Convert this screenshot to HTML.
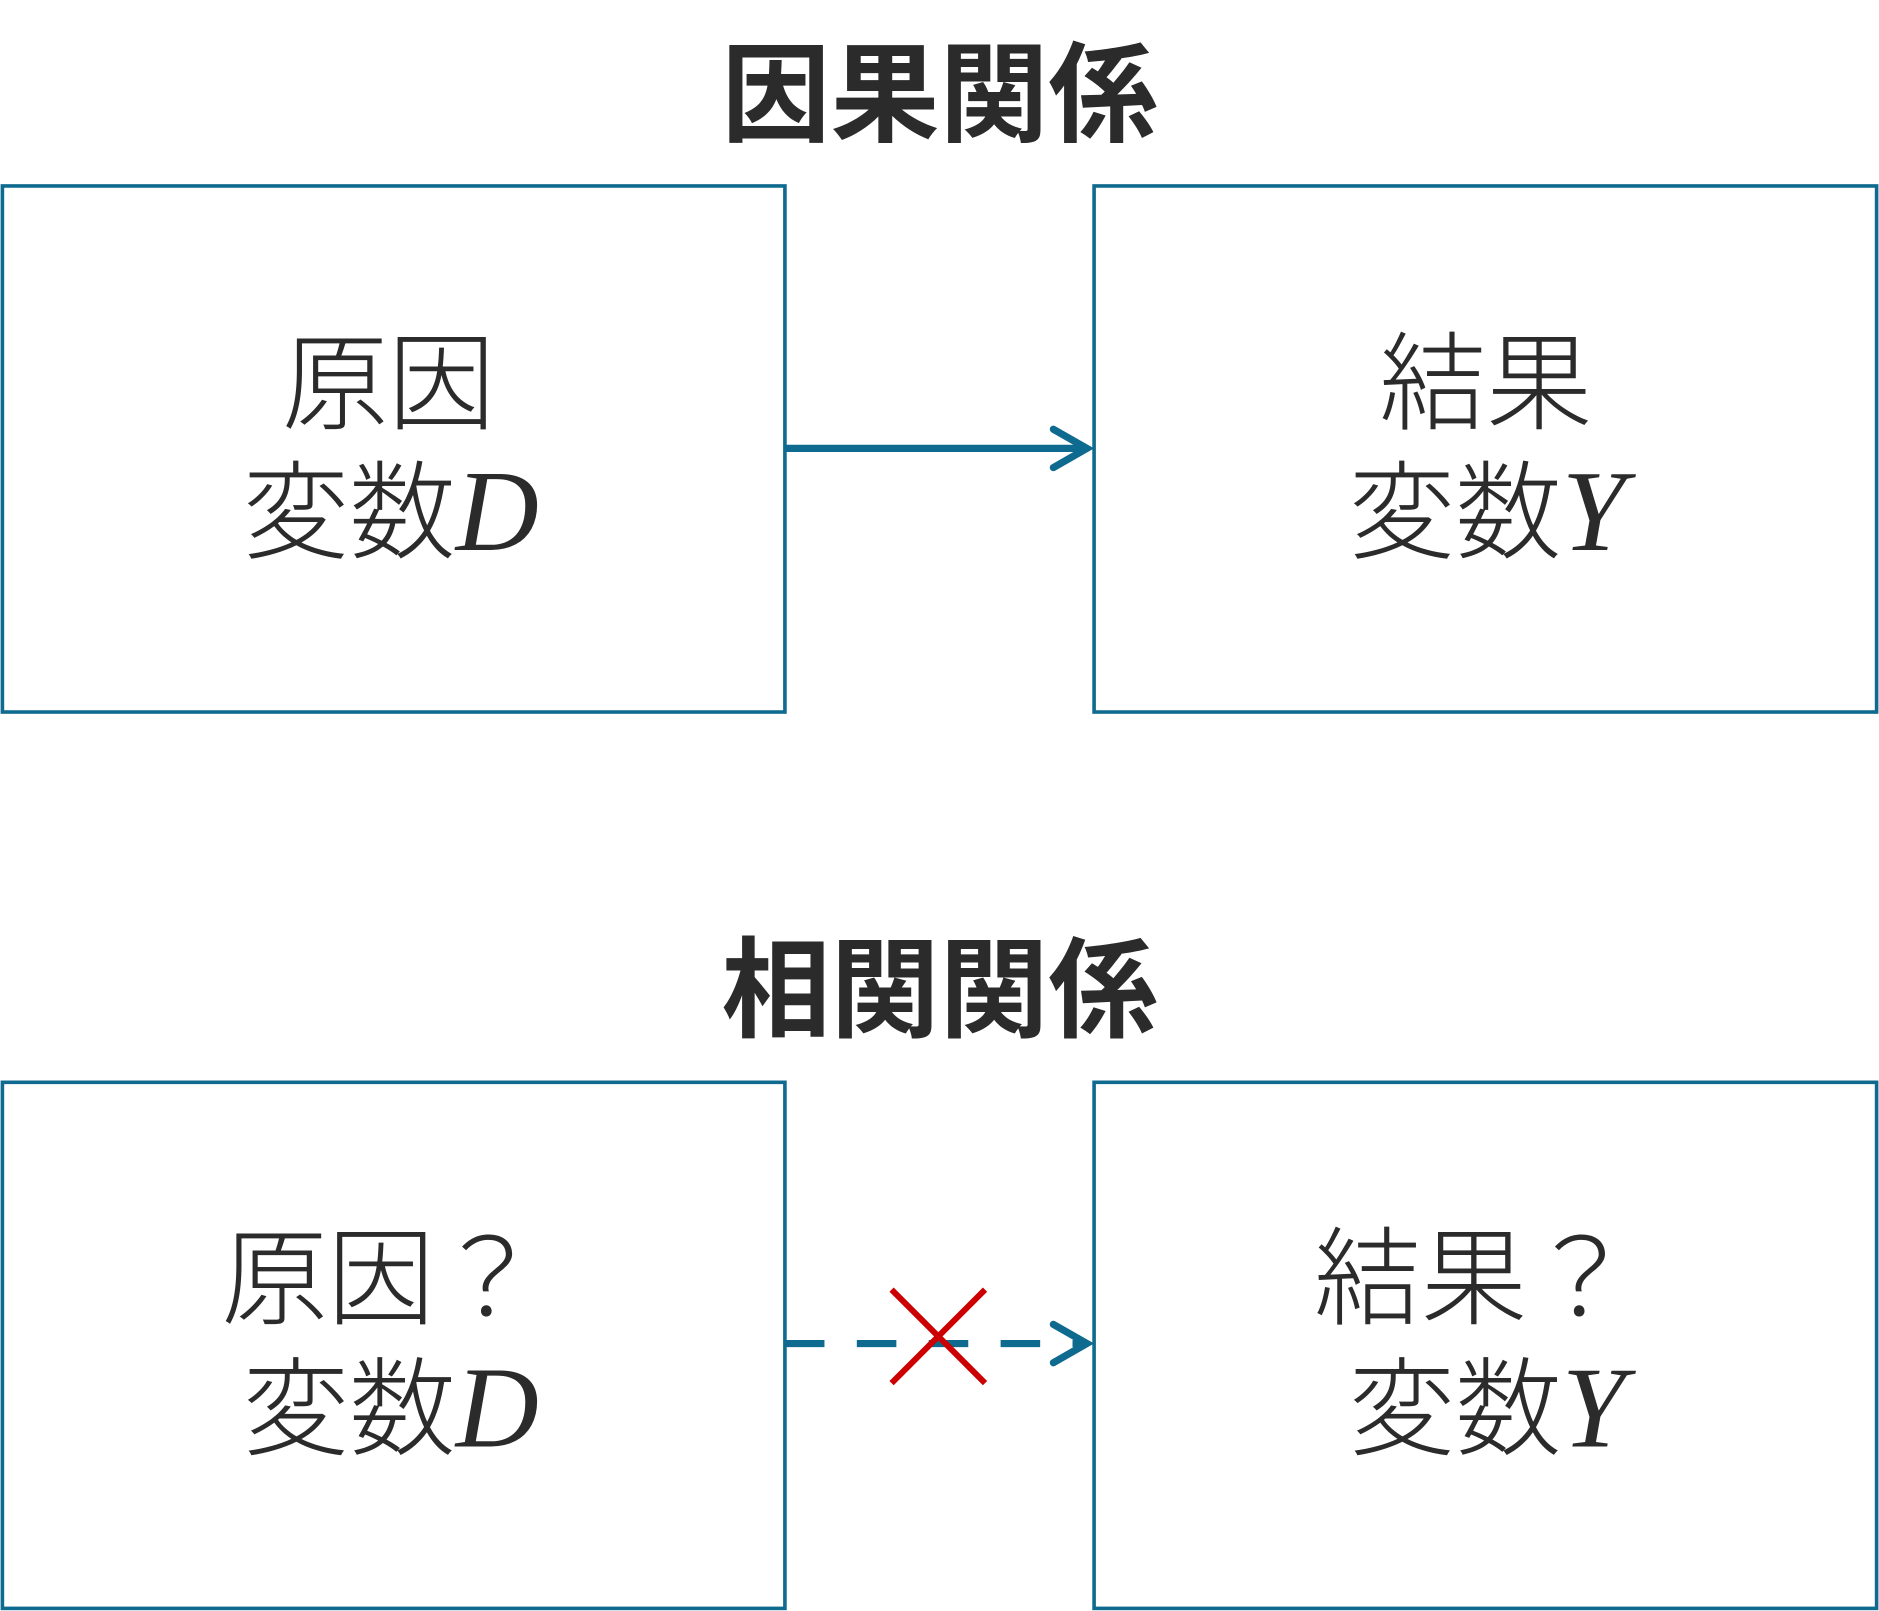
<!DOCTYPE html>
<html><head><meta charset="utf-8"><style>
html,body{margin:0;padding:0;background:#fff;}
svg{display:block}
</style></head><body>
<svg width="1879" height="1611" viewBox="0 0 1568 1344" xmlns="http://www.w3.org/2000/svg">
<rect width="1568" height="1344" fill="#fff"/>
<g font-family="'Liberation Sans','Noto Sans CJK JP',sans-serif" fill="#2b2b2b">
<text x="784" y="111" font-size="91" font-weight="bold" text-anchor="middle">因果関係</text>
<text x="784" y="858" font-size="91" font-weight="bold" text-anchor="middle">相関関係</text>
</g>
<g fill="none" stroke="#0e6a8e" stroke-width="3">
<rect x="2" y="155" width="653" height="439"/>
<rect x="913" y="155" width="653" height="439"/>
<rect x="2" y="903" width="653" height="439"/>
<rect x="913" y="903" width="653" height="439"/>
</g>
<g stroke="#0e6a8e" stroke-width="6" fill="none" stroke-linecap="round">
<line x1="655" y1="374" x2="906" y2="374" stroke-linecap="butt"/>
<polyline points="879,358 907,374 879,390"/>
<line x1="655" y1="1121" x2="906" y2="1121" stroke-linecap="butt" stroke-dasharray="33 27"/>
<polyline points="879,1105 907,1121 879,1137"/>
</g>
<g stroke="#cc0000" stroke-width="5">
<line x1="744" y1="1076" x2="822" y2="1154"/>
<line x1="822" y1="1076" x2="744" y2="1154"/>
</g>
<g font-family="'Liberation Sans','Noto Sans CJK JP',sans-serif" font-weight="300" fill="#2b2b2b" font-size="89" text-anchor="middle">
<text x="324" y="351">原因</text>
<text x="326" y="459">変数<tspan font-family="'Liberation Serif',serif" font-style="italic" font-weight="normal" font-size="96">D</tspan></text>
<text x="1240" y="351">結果</text>
<text x="1241" y="459">変数<tspan font-family="'Liberation Serif',serif" font-style="italic" font-weight="normal" font-size="96">Y</tspan></text>
<text x="318" y="1098">原因？</text>
<text x="326" y="1207">変数<tspan font-family="'Liberation Serif',serif" font-style="italic" font-weight="normal" font-size="96">D</tspan></text>
<text x="1230" y="1098">結果？</text>
<text x="1241" y="1207">変数<tspan font-family="'Liberation Serif',serif" font-style="italic" font-weight="normal" font-size="96">Y</tspan></text>
</g>
</svg>
</body></html>
